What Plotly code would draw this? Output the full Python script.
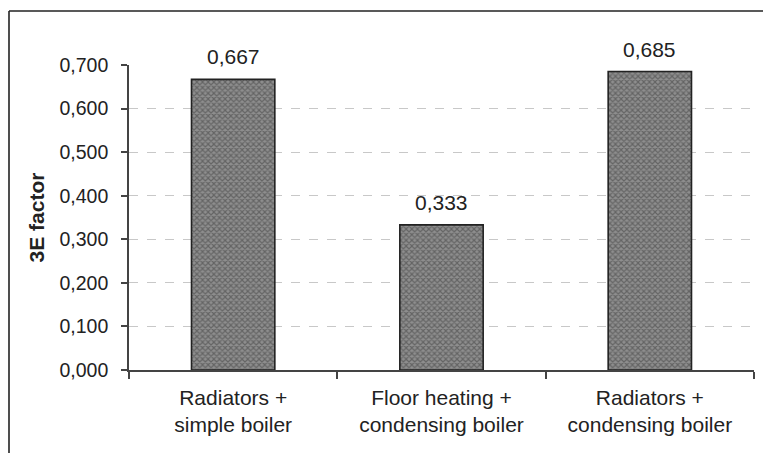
import plotly.graph_objects as go

categories = ["Radiators +<br>simple boiler", "Floor heating +<br>condensing boiler", "Radiators +<br>condensing boiler"]
values = [0.667, 0.333, 0.685]
y_ticks = [0.0, 0.1, 0.2, 0.3, 0.4, 0.5, 0.6, 0.7]
y_tick_labels = [f"{v:.3f}".replace(".", ",") for v in y_ticks]
value_labels = [f"{v:.3f}".replace(".", ",") for v in values]

FONT = "Liberation Sans, Arial, sans-serif"
TXT = "#222222"
FS = 21

fig = go.Figure()
fig.add_trace(go.Bar(
    x=categories, y=values, width=0.4,
    marker=dict(
        color="#707070",
        line=dict(color="#222222", width=1.6),
        pattern=dict(shape="x", size=4, solidity=0.5, fgcolor="#3a3a3a", bgcolor="#8e8e8e"),
    ),
    hoverinfo="skip",
))

for c, v, t in zip(categories, values, value_labels):
    fig.add_annotation(x=c, y=v, text=t, showarrow=False, yanchor="bottom", yshift=9,
                       font=dict(family=FONT, size=FS, color=TXT))

# page body has an 8px margin; figure coordinates are reference minus 8
W, H = 763, 445
L, T = 121, 57
R = W - (754 - 8)
B = H - (370 - 8)
pw, ph = W - L - R, H - T - B
bx = (1 - L) / pw
by = 1 + (T - 3) / ph
fig.add_shape(type="line", xref="paper", yref="paper", x0=bx, x1=bx, y0=-0.5, y1=by,
              line=dict(color="#222222", width=1.6))
fig.add_shape(type="line", xref="paper", yref="paper", x0=bx, x1=1.2, y0=by, y1=by,
              line=dict(color="#222222", width=1.6))

fig.update_layout(
    width=W, height=H,
    margin=dict(l=L, r=R, t=T, b=B, autoexpand=False),
    paper_bgcolor="white", plot_bgcolor="white",
    font=dict(family=FONT, size=FS, color=TXT),
    showlegend=False,
    xaxis=dict(
        type="category", tickson="boundaries", ticks="outside", ticklen=7, tickwidth=1.6,
        tickcolor="#444444", showline=True, linecolor="#444444", linewidth=1.6,
        showgrid=False, ticklabelstandoff=8, tickfont=dict(size=FS),
    ),
    yaxis=dict(
        range=[0, 0.7], tickvals=y_ticks, ticktext=y_tick_labels,
        ticks="outside", ticklen=6, tickwidth=1.6, tickcolor="#444444",
        showline=True, linecolor="#444444", linewidth=1.6,
        showgrid=True, gridcolor="#c8c8c8", griddash="dash", gridwidth=1.2,
        zeroline=False, ticklabelstandoff=9, tickfont=dict(size=19.5),
        title=dict(text="<b>3E factor</b>", font=dict(size=FS), standoff=9),
    ),
)

fig.write_html("out.html")
